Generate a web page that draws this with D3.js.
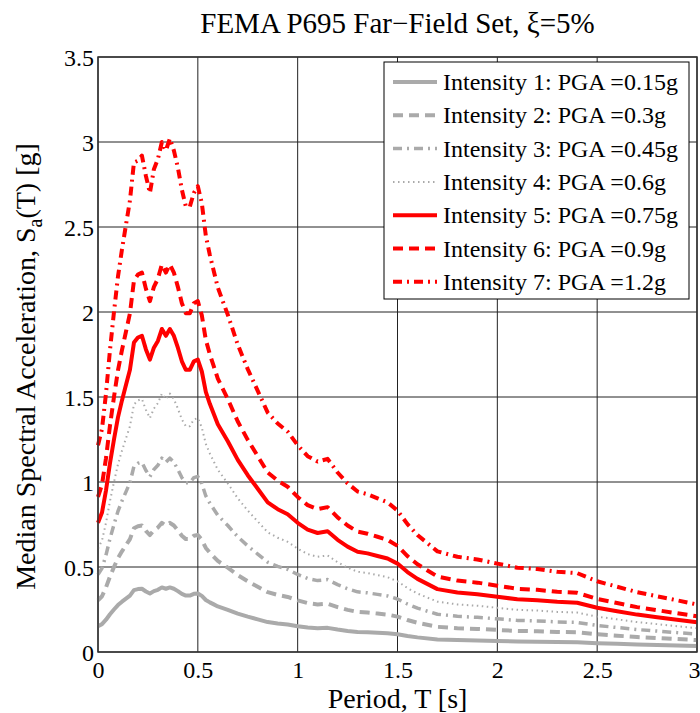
<!DOCTYPE html>
<meta charset="utf-8">
<script src="https://d3js.org/d3.v7.min.js"></script>
<style>
body { margin: 0; background: white; }
svg text { font-family: "Liberation Serif", "Times New Roman", serif; fill: black; }
</style>
<div id="chart"></div>
<script>
// periods [s]
var periods = [0, 0.02, 0.04, 0.06, 0.08, 0.10, 0.12, 0.14, 0.16, 0.18, 0.20, 0.22, 0.24, 0.26, 0.28, 0.30,
  0.32, 0.34, 0.36, 0.38, 0.40, 0.42, 0.44, 0.46, 0.48, 0.50, 0.52, 0.54, 0.56, 0.58, 0.60, 0.65, 0.70, 0.75,
  0.80, 0.85, 0.90, 0.95, 1.00, 1.05, 1.10, 1.15, 1.20, 1.25, 1.30, 1.35, 1.40, 1.45, 1.50, 1.55, 1.60, 1.70,
  1.80, 1.90, 2.00, 2.10, 2.20, 2.30, 2.40, 2.50, 2.60, 2.70, 2.80, 2.90, 3.00];

// median Sa [g], one array per intensity
var sa1 = [0.152, 0.164, 0.19, 0.222, 0.25, 0.276, 0.296, 0.314, 0.332, 0.364, 0.37, 0.372, 0.356, 0.344, 0.358, 0.366,
  0.38, 0.372, 0.38, 0.372, 0.358, 0.342, 0.332, 0.332, 0.342, 0.344, 0.33, 0.306, 0.292, 0.28, 0.268, 0.248, 0.226, 0.208,
  0.192, 0.176, 0.168, 0.162, 0.152, 0.144, 0.14, 0.142, 0.132, 0.124, 0.118, 0.116, 0.113, 0.11, 0.104, 0.094, 0.086, 0.074,
  0.07, 0.068, 0.065, 0.062, 0.061, 0.059, 0.058, 0.052, 0.048, 0.044, 0.041, 0.038, 0.035];
var sa2 = [0.304, 0.328, 0.38, 0.444, 0.50, 0.552, 0.592, 0.628, 0.664, 0.728, 0.74, 0.744, 0.712, 0.688, 0.716, 0.732,
  0.76, 0.744, 0.76, 0.744, 0.716, 0.684, 0.664, 0.664, 0.684, 0.688, 0.66, 0.612, 0.584, 0.56, 0.536, 0.496, 0.452, 0.416,
  0.384, 0.352, 0.336, 0.324, 0.304, 0.288, 0.28, 0.284, 0.264, 0.248, 0.236, 0.232, 0.226, 0.22, 0.208, 0.188, 0.172, 0.148,
  0.14, 0.136, 0.13, 0.124, 0.122, 0.118, 0.116, 0.104, 0.096, 0.088, 0.082, 0.076, 0.07];
var sa3 = [0.456, 0.492, 0.57, 0.666, 0.75, 0.828, 0.888, 0.942, 0.996, 1.092, 1.11, 1.116, 1.068, 1.032, 1.074, 1.098,
  1.14, 1.116, 1.14, 1.116, 1.074, 1.026, 0.996, 0.996, 1.026, 1.032, 0.99, 0.918, 0.876, 0.84, 0.804, 0.744, 0.678, 0.624,
  0.576, 0.528, 0.504, 0.486, 0.456, 0.432, 0.42, 0.426, 0.396, 0.372, 0.354, 0.348, 0.339, 0.33, 0.312, 0.282, 0.258, 0.222,
  0.21, 0.204, 0.195, 0.186, 0.183, 0.177, 0.174, 0.156, 0.144, 0.132, 0.123, 0.114, 0.105];
var sa4 = [0.608, 0.656, 0.76, 0.888, 1.00, 1.104, 1.184, 1.256, 1.328, 1.456, 1.48, 1.488, 1.424, 1.376, 1.432, 1.464,
  1.52, 1.488, 1.52, 1.488, 1.432, 1.368, 1.328, 1.328, 1.368, 1.376, 1.32, 1.224, 1.168, 1.12, 1.072, 0.992, 0.904, 0.832,
  0.768, 0.704, 0.672, 0.648, 0.608, 0.576, 0.56, 0.568, 0.528, 0.496, 0.472, 0.464, 0.452, 0.44, 0.416, 0.376, 0.344, 0.296,
  0.28, 0.272, 0.26, 0.248, 0.244, 0.236, 0.232, 0.208, 0.192, 0.176, 0.164, 0.152, 0.14];
var sa5 = [0.76, 0.82, 0.95, 1.11, 1.25, 1.38, 1.48, 1.57, 1.66, 1.82, 1.85, 1.86, 1.78, 1.72, 1.79, 1.83,
  1.90, 1.86, 1.90, 1.86, 1.79, 1.71, 1.66, 1.66, 1.71, 1.72, 1.65, 1.53, 1.46, 1.40, 1.34, 1.24, 1.13, 1.04,
  0.96, 0.88, 0.84, 0.81, 0.76, 0.72, 0.70, 0.71, 0.66, 0.62, 0.59, 0.58, 0.565, 0.55, 0.52, 0.47, 0.43, 0.37,
  0.35, 0.34, 0.325, 0.31, 0.305, 0.295, 0.29, 0.26, 0.24, 0.22, 0.205, 0.19, 0.175];
var sa6 = [0.912, 0.984, 1.14, 1.332, 1.50, 1.656, 1.776, 1.884, 1.992, 2.184, 2.22, 2.232, 2.136, 2.064, 2.148, 2.196,
  2.28, 2.232, 2.28, 2.232, 2.148, 2.052, 1.992, 1.992, 2.052, 2.064, 1.98, 1.836, 1.752, 1.68, 1.608, 1.488, 1.356, 1.248,
  1.152, 1.056, 1.008, 0.972, 0.912, 0.864, 0.84, 0.852, 0.792, 0.744, 0.708, 0.696, 0.678, 0.66, 0.624, 0.564, 0.516, 0.444,
  0.42, 0.408, 0.39, 0.372, 0.366, 0.354, 0.348, 0.312, 0.288, 0.264, 0.246, 0.228, 0.21];
var sa7 = [1.216, 1.312, 1.52, 1.776, 2.00, 2.208, 2.368, 2.512, 2.656, 2.88, 2.89, 2.92, 2.80, 2.70, 2.84, 2.90,
  3.0, 2.95, 3.02, 2.95, 2.85, 2.72, 2.62, 2.62, 2.70, 2.74, 2.64, 2.448, 2.336, 2.24, 2.144, 1.984, 1.808, 1.664,
  1.536, 1.408, 1.344, 1.296, 1.216, 1.152, 1.12, 1.136, 1.056, 0.992, 0.944, 0.928, 0.904, 0.88, 0.832, 0.752, 0.688, 0.592,
  0.56, 0.544, 0.52, 0.496, 0.488, 0.472, 0.464, 0.416, 0.384, 0.352, 0.328, 0.304, 0.28];

var seriesNames = ["Intensity 1: PGA =0.15g", "Intensity 2: PGA =0.3g", "Intensity 3: PGA =0.45g",
  "Intensity 4: PGA =0.6g", "Intensity 5: PGA =0.75g", "Intensity 6: PGA =0.9g", "Intensity 7: PGA =1.2g"];
var xTicks = [0, 0.5, 1, 1.5, 2, 2.5, 3];
var yTicks = [0, 0.5, 1, 1.5, 2, 2.5, 3, 3.5];

var allSeries = [sa1, sa2, sa3, sa4, sa5, sa6, sa7];
var grey = "#aaaaaa", red = "#ff0000";
var styles = [
  { color: grey, width: 4, dash: null },
  { color: grey, width: 4, dash: "10,6" },
  { color: grey, width: 3.5, dash: "9,5,2,5" },
  { color: grey, width: 2, dash: "1.5,3.5" },
  { color: red, width: 4, dash: null },
  { color: red, width: 4, dash: "10,6" },
  { color: red, width: 4, dash: "9,5,2,5" }
];

var W = 700, H = 713;
var margin = { top: 57, right: 3, bottom: 61, left: 98 };
var width = W - margin.left - margin.right,
    height = H - margin.top - margin.bottom;

var svg = d3.select("#chart").append("svg")
  .attr("width", W).attr("height", H);

var g = svg.append("g")
  .attr("transform", "translate(" + margin.left + "," + margin.top + ")");

var x = d3.scaleLinear().domain([0, 3]).range([0, width]);
var y = d3.scaleLinear().domain([0, 3.5]).range([height, 0]);

// grid
g.append("g").selectAll("line").data(xTicks).enter().append("line")
  .attr("x1", function(d) { return x(d); }).attr("x2", function(d) { return x(d); })
  .attr("y1", 0).attr("y2", height)
  .attr("stroke", "#222").attr("stroke-width", 1);
g.append("g").selectAll("line").data(yTicks).enter().append("line")
  .attr("y1", function(d) { return y(d); }).attr("y2", function(d) { return y(d); })
  .attr("x1", 0).attr("x2", width)
  .attr("stroke", "#222").attr("stroke-width", 1);

// axes
var xAxis = g.append("g")
  .attr("transform", "translate(0," + height + ")")
  .call(d3.axisBottom(x).tickValues(xTicks).tickSize(0).tickPadding(9).tickFormat(d3.format("")));
var yAxis = g.append("g")
  .call(d3.axisLeft(y).tickValues(yTicks).tickSize(0).tickPadding(4).tickFormat(d3.format("")));
[xAxis, yAxis].forEach(function(a) {
  a.select(".domain").remove();
  a.selectAll("text").attr("font-size", "24px").style("font-family", "Liberation Serif");
});
yAxis.selectAll("text").attr("dy", "0.36em");
// last x label sits at the right edge, keep it inside
xAxis.selectAll(".tick").filter(function(d) { return d === 3; }).select("text")
  .attr("text-anchor", "end").attr("x", 3);

// curves
var line = d3.line()
  .x(function(d) { return x(d[0]); })
  .y(function(d) { return y(d[1]); });

allSeries.forEach(function(s, i) {
  var pts = periods.map(function(t, j) { return [t, s[j]]; });
  g.append("path")
    .datum(pts)
    .attr("fill", "none")
    .attr("stroke", styles[i].color)
    .attr("stroke-width", styles[i].width)
    .attr("stroke-dasharray", styles[i].dash)
    .attr("stroke-linejoin", "round")
    .attr("d", line);
});

// frame
g.append("rect")
  .attr("width", width).attr("height", height)
  .attr("fill", "none").attr("stroke", "#333").attr("stroke-width", 1.5);

// legend
var lg = g.append("g").attr("transform", "translate(" + (384 - margin.left) + "," + (62 - margin.top) + ")");
lg.append("rect")
  .attr("width", 305).attr("height", 237)
  .attr("fill", "white").attr("stroke", "black").attr("stroke-width", 1);
seriesNames.forEach(function(name, i) {
  var cy = 20 + i * 33.3;
  lg.append("line")
    .attr("x1", 9).attr("x2", 53).attr("y1", cy).attr("y2", cy)
    .attr("stroke", styles[i].color)
    .attr("stroke-width", styles[i].width)
    .attr("stroke-dasharray", styles[i].dash);
  lg.append("text")
    .attr("x", 59).attr("y", cy + 8)
    .attr("font-size", "24px")
    .text(name);
});

// title and axis labels
svg.append("text")
  .attr("x", margin.left + width / 2).attr("y", 33)
  .attr("text-anchor", "middle").attr("font-size", "29px")
  .text("FEMA P695 Far\u2212Field Set, \u03be=5%");

svg.append("text")
  .attr("x", margin.left + width / 2).attr("y", 708)
  .attr("text-anchor", "middle").attr("font-size", "28px")
  .text("Period, T [s]");

var yl = svg.append("text")
  .attr("transform", "translate(35," + (margin.top + height / 2 + 12) + ") rotate(-90)")
  .attr("text-anchor", "middle").attr("font-size", "28px");
yl.append("tspan").text("Median Spectral Acceleration, S");
yl.append("tspan").attr("font-size", "20px").attr("dy", "7").text("a");
yl.append("tspan").attr("dy", "-7").text("(T) [g]");
</script>
